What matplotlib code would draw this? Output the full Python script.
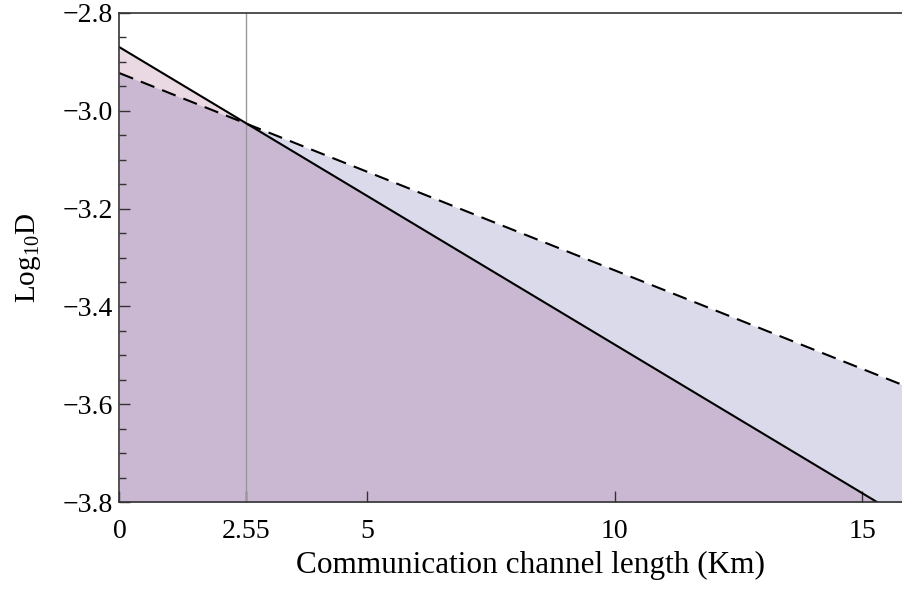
import numpy as np
import matplotlib.pyplot as plt
from matplotlib.ticker import MultipleLocator

plt.rcParams['font.family'] = ['Liberation Serif', 'DejaVu Serif']
plt.rcParams['mathtext.fontset'] = 'custom'
plt.rcParams['mathtext.rm'] = 'Liberation Serif'
plt.rcParams['mathtext.it'] = 'Liberation Serif:italic'

# channel length (Km) and log10 D for the two curves
length = np.array([0.0, 15.82])
solid_d = np.array([-2.870, -3.832])
dashed_d = np.array([-2.923, -3.561])
cross_x = 2.55

xticks = [0, 2.55, 5, 10, 15]
xtick_labels = ['0', '2.55', '5', '10', '15']
yticks = [-3.8, -3.6, -3.4, -3.2, -3.0, -2.8]

fig = plt.figure(figsize=(9.03, 5.92), dpi=100)
ax = fig.add_axes([119.5 / 903, 90 / 592, (903 - 119.5) / 903, (502 - 13) / 592])

ymin = -3.8
# layered fills: lavender under dashed, purple under solid, pink where solid is above dashed
ax.fill_between(length, ymin, dashed_d, color='#dadaeb', lw=0)
ax.fill_between(length, ymin, solid_d, color='#cab8d2', lw=0)
ax.fill_between(length, dashed_d, solid_d, where=solid_d >= dashed_d,
                color='#ead8e2', lw=0, interpolate=True)

ax.axvline(cross_x, color='#999999', lw=1)
ax.plot(length, solid_d, color='black', lw=1.5)
ax.plot(length, dashed_d, color='black', lw=1.5, dashes=(7, 4))

ax.set_xlim(0, 15.82)
ax.set_ylim(-3.8, -2.8)
ax.set_xticks(xticks)
ax.set_xticklabels(xtick_labels)
ax.set_yticks(yticks)
ax.set_yticklabels(['\u22123.8', '\u22123.6', '\u22123.4', '\u22123.2', '\u22123.0', '\u22122.8'])
ax.yaxis.set_minor_locator(MultipleLocator(0.05))
ax.tick_params(axis='both', which='major', direction='in', length=8, width=1,
               labelsize=20, color='#333333')
ax.tick_params(axis='x', which='major', pad=12)
ax.tick_params(axis='y', which='major', pad=5)
ax.tick_params(axis='y', which='minor', direction='in', length=5, width=1, color='#333333')
ax.tick_params(axis='x', which='minor', bottom=False)

for s in ['left', 'bottom', 'top']:
    ax.spines[s].set_color('#333333')
    ax.spines[s].set_linewidth(1.2)
ax.spines['right'].set_visible(False)

ax.set_xlabel('Communication channel length (Km)', fontsize=22.5)
ax.xaxis.set_label_coords(0.525, -0.129, transform=ax.transAxes)
ax.xaxis.label.set_verticalalignment('center')
ax.set_ylabel(r'Log$_{10}$D', fontsize=21, labelpad=14)

fig.savefig('out.png', dpi=100)
